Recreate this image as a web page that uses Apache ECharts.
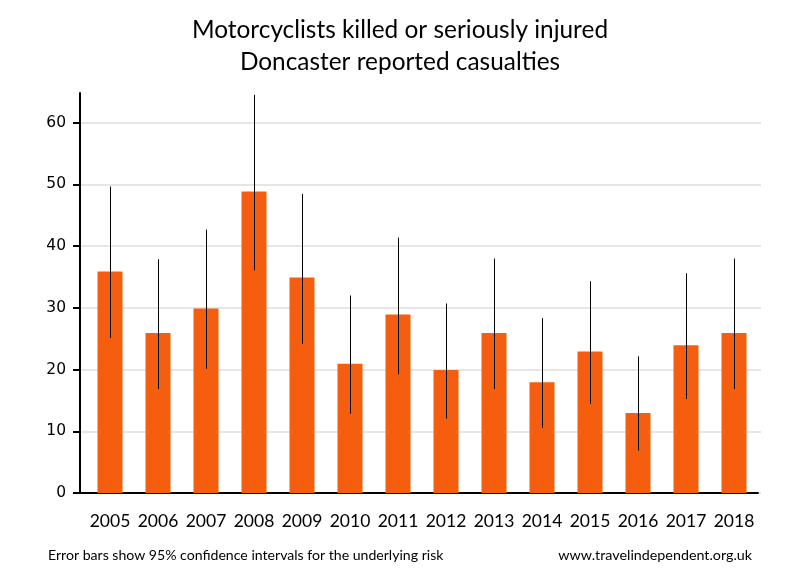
<!DOCTYPE html>
<html>
<head>
<meta charset="utf-8">
<script src="https://cdn.jsdelivr.net/npm/echarts@6/dist/echarts.min.js"></script>
<style>html,body{margin:0;padding:0;background:#fff}#c{width:800px;height:580px}</style>
</head>
<body>
<div id="c"></div>
<script>
var years = ['2005','2006','2007','2008','2009','2010','2011','2012','2013','2014','2015','2016','2017','2018'];
var casualties = [36, 26, 30, 49, 35, 21, 29, 20, 26, 18, 23, 13, 24, 26];
var ciLow  = [25.2, 16.9, 20.2, 36.2, 24.2, 12.9, 19.3, 12.1, 16.9, 10.6, 14.5, 6.9, 15.3, 16.9];
var ciHigh = [49.8, 38.0, 42.8, 64.7, 48.6, 32.1, 41.5, 30.8, 38.1, 28.4, 34.4, 22.2, 35.7, 38.1];
var yTicks = [0, 10, 20, 30, 40, 50, 60];

var errData = years.map(function (y, i) { return [i, ciLow[i], ciHigh[i]]; });
var titleFont = 'Lato, "Open Sans", sans-serif';

var chart = echarts.init(document.getElementById('c'), null, {renderer: 'canvas'});
chart.setOption({
  animation: false,
  backgroundColor: '#ffffff',
  title: [
    {text: 'Motorcyclists killed or seriously injured\nDoncaster reported casualties', left: 'center', top: 14.5, padding: 0,
     textStyle: {fontFamily: titleFont, fontSize: 24.4, fontWeight: 'normal', color: '#000', lineHeight: 32}},
    {text: 'Error bars show 95% confidence intervals for the underlying risk', left: 48, top: 548, padding: 0,
     textStyle: {fontFamily: titleFont, fontSize: 14.1, fontWeight: 'normal', color: '#000'}},
    {text: 'www.travelindependent.org.uk', right: 48, top: 548, padding: 0,
     textStyle: {fontFamily: titleFont, fontSize: 14.3, fontWeight: 'normal', color: '#000'}}
  ],
  grid: [
    {left: 80, right: 39, top: 122.67, bottom: 87},
    {left: 86, right: 42, top: 93, bottom: 87},
    {left: 80, right: 42, top: 93, bottom: 87}
  ],
  xAxis: [
    {gridIndex: 0, type: 'value', show: false, min: 0, max: 1},
    {gridIndex: 1, type: 'category', data: years, boundaryGap: true,
     axisLine: {show: false}, axisTick: {show: false},
     axisLabel: {interval: 0, margin: 19, fontFamily: titleFont, fontSize: 17.5, color: '#000'}},
    {gridIndex: 2, type: 'value', min: 0, max: 1,
     axisLine: {show: true, lineStyle: {color: '#000', width: 2}},
     axisTick: {show: false}, axisLabel: {show: false}, splitLine: {show: false}}
  ],
  yAxis: [
    {gridIndex: 0, type: 'value', min: 0, max: 60, interval: 10,
     axisLine: {show: false},
     axisTick: {show: true, inside: false, length: 7, lineStyle: {color: '#000', width: 2}},
     axisLabel: {margin: 14, fontFamily: '"DejaVu Sans", Verdana, sans-serif', fontSize: 15.5, color: '#000',
       formatter: function (v) { return yTicks.indexOf(v) >= 0 ? String(v) : ''; }},
     splitLine: {show: true, lineStyle: {color: '#e6e6e6', width: 2}}},
    {gridIndex: 1, type: 'value', min: 0, max: 65, show: false},
    {gridIndex: 2, type: 'value', min: 0, max: 65,
     axisLine: {show: true, lineStyle: {color: '#000', width: 2}},
     axisTick: {show: false}, axisLabel: {show: false}, splitLine: {show: false}}
  ],
  series: [
    {type: 'bar', xAxisIndex: 1, yAxisIndex: 1, data: casualties, barWidth: 25,
     itemStyle: {color: '#f55e0e'}},
    {type: 'custom', xAxisIndex: 1, yAxisIndex: 1, data: errData, z: 5,
     renderItem: function (params, api) {
       var lo = api.coord([api.value(0), api.value(1)]);
       var hi = api.coord([api.value(0), api.value(2)]);
       var x = Math.round(lo[0]) + 0.5;
       return {type: 'line', shape: {x1: x, y1: lo[1], x2: x, y2: hi[1]},
               style: {stroke: '#000', lineWidth: 1}};
     }}
  ]
});
</script>
</body>
</html>
